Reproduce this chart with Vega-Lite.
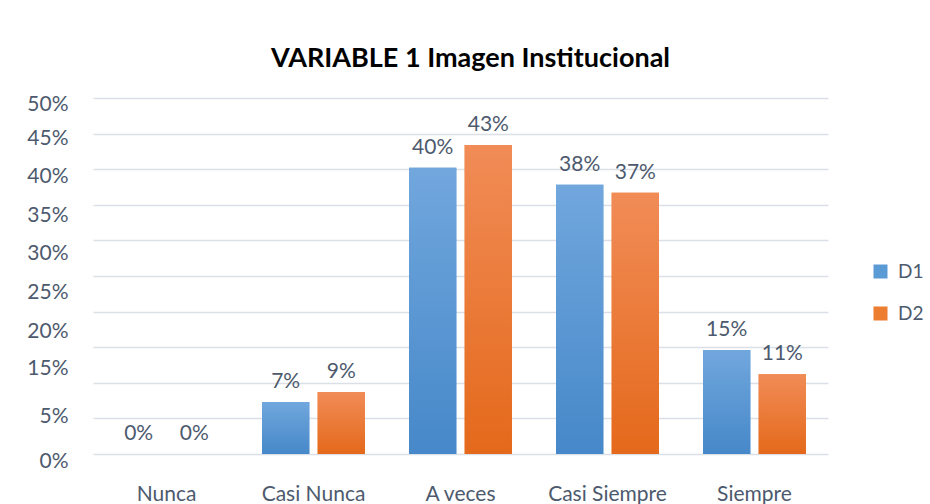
{
  "$schema": "https://vega.github.io/schema/vega-lite/v6.json",
  "width": 735,
  "height": 356,
  "autosize": {"type": "none"},
  "padding": {"left": 93, "top": 98, "right": 102, "bottom": 50},
  "background": "white",
  "title": {
    "text": "VARIABLE 1 Imagen Institucional",
    "font": "Lato",
    "fontSize": 27,
    "fontWeight": "bold",
    "color": "#000000",
    "anchor": "middle",
    "offset": 14,
    "dx": 10
  },
  "data": {
    "values": [
      {"categoria": "Nunca", "serie": "D1", "valor": 0},
      {"categoria": "Nunca", "serie": "D2", "valor": 0},
      {"categoria": "Casi Nunca", "serie": "D1", "valor": 0.073},
      {"categoria": "Casi Nunca", "serie": "D2", "valor": 0.087},
      {"categoria": "A veces", "serie": "D1", "valor": 0.402},
      {"categoria": "A veces", "serie": "D2", "valor": 0.434},
      {"categoria": "Casi Siempre", "serie": "D1", "valor": 0.378},
      {"categoria": "Casi Siempre", "serie": "D2", "valor": 0.367},
      {"categoria": "Siempre", "serie": "D1", "valor": 0.146},
      {"categoria": "Siempre", "serie": "D2", "valor": 0.112}
    ]
  },
  "encoding": {
    "x": {
      "field": "categoria",
      "type": "nominal",
      "sort": ["Nunca", "Casi Nunca", "A veces", "Casi Siempre", "Siempre"],
      "scale": {"paddingInner": 0.3, "paddingOuter": 0.15},
      "axis": {
        "title": null,
        "labelAngle": 0,
        "domain": false,
        "ticks": false,
        "labelPadding": 29,
        "labelFont": "Lato",
        "labelFontSize": 21,
        "labelColor": "#4d5a6e"
      }
    },
    "xOffset": {
      "field": "serie",
      "type": "nominal",
      "sort": ["D1", "D2"],
      "scale": {"paddingInner": 0.15}
    },
    "y": {
      "field": "valor",
      "type": "quantitative",
      "scale": {"domain": [0, 0.5], "nice": false},
      "axis": {
        "title": null,
        "values": [0, 0.05, 0.1, 0.15, 0.2, 0.25, 0.3, 0.35, 0.4, 0.45, 0.5],
        "labelExpr": "datum.value < 0.07 ? format(datum.value, '.0%') : datum.value < 0.49 ? format(datum.value + 0.05, '.0%') : ''",
        "grid": true,
        "gridColor": "#dadfe8",
        "gridWidth": 1.5,
        "domain": false,
        "ticks": false,
        "labelPadding": 25,
        "labelOverlap": false,
        "labelFont": "Lato",
        "labelFontSize": 21,
        "labelColor": "#4d5a6e",
        "labelOffset": {
          "condition": [
            {"test": "datum.value < 0.01", "value": 7},
            {"test": "datum.value < 0.06", "value": -2},
            {"test": "datum.value < 0.11", "value": -14},
            {"test": "datum.value < 0.16", "value": -16},
            {"test": "datum.value < 0.21", "value": -19},
            {"test": "datum.value < 0.26", "value": -23},
            {"test": "datum.value < 0.31", "value": -25},
            {"test": "datum.value < 0.36", "value": -28},
            {"test": "datum.value < 0.41", "value": -31},
            {"test": "datum.value < 0.46", "value": -29}
          ],
          "value": 0
        }
      }
    }
  },
  "layer": [
    {
      "mark": {"type": "bar"},
      "encoding": {
        "color": {
          "field": "serie",
          "type": "nominal",
          "scale": {"domain": ["D1", "D2"], "range": ["#5b9bd5", "#ed7d31"]},
          "legend": {
            "title": null,
            "orient": "none",
            "legendX": 778,
            "legendY": 164,
            "symbolType": "square",
            "symbolSize": 196,
            "symbolStrokeWidth": 0,
            "labelFont": "Lato",
            "labelFontSize": 19,
            "labelColor": "#4d5a6e",
            "labelOffset": 8,
            "rowPadding": 22
          }
        }
      }
    },
    {
      "transform": [{"filter": "datum.serie === 'D1'"}],
      "mark": {
        "type": "bar",
        "fill": {
          "gradient": "linear",
          "x1": 0, "y1": 0, "x2": 0, "y2": 1,
          "stops": [{"offset": 0, "color": "#71a7dd"}, {"offset": 1, "color": "#4688c9"}]
        }
      }
    },
    {
      "transform": [{"filter": "datum.serie === 'D2'"}],
      "mark": {
        "type": "bar",
        "fill": {
          "gradient": "linear",
          "x1": 0, "y1": 0, "x2": 0, "y2": 1,
          "stops": [{"offset": 0, "color": "#f18c57"}, {"offset": 1, "color": "#e4691b"}]
        }
      }
    },
    {
      "mark": {
        "type": "text",
        "baseline": "alphabetic",
        "dy": -14,
        "font": "Lato",
        "fontSize": 21,
        "color": "#4d5a6e"
      },
      "encoding": {
        "text": {"field": "valor", "type": "quantitative", "format": ".0%"}
      }
    }
  ],
  "config": {
    "view": {"stroke": null}
  }
}
